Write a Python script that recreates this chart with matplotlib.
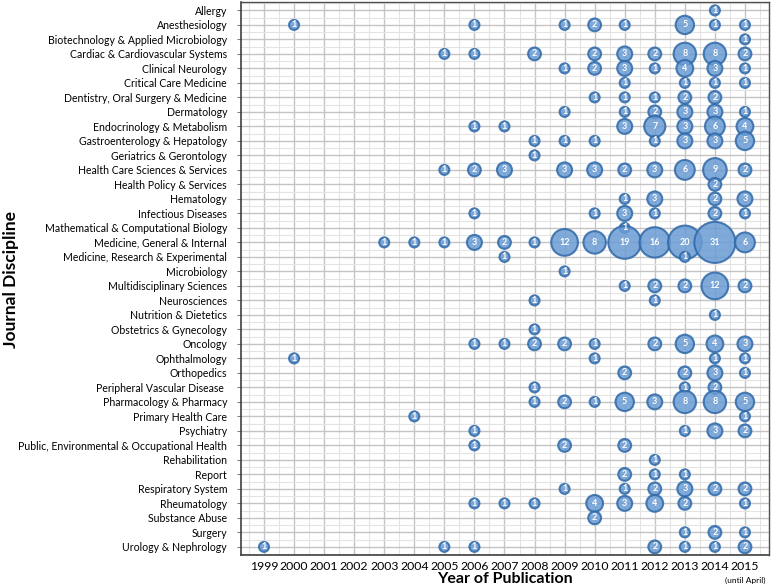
import numpy as np
import matplotlib
matplotlib.use("Agg")
import matplotlib.pyplot as plt
from matplotlib.ticker import MultipleLocator

plt.rcParams['font.family'] = ['Lato', 'DejaVu Sans']

years = list(range(1999, 2016))

categories = [
    "Allergy",
    "Anesthesiology",
    "Biotechnology & Applied Microbiology",
    "Cardiac & Cardiovascular Systems",
    "Clinical Neurology",
    "Critical Care Medicine",
    "Dentistry, Oral Surgery & Medicine",
    "Dermatology",
    "Endocrinology & Metabolism",
    "Gastroenterology & Hepatology",
    "Geriatrics & Gerontology",
    "Health Care Sciences & Services",
    "Health Policy & Services",
    "Hematology",
    "Infectious Diseases",
    "Mathematical & Computational Biology",
    "Medicine, General & Internal",
    "Medicine, Research & Experimental",
    "Microbiology",
    "Multidisciplinary Sciences",
    "Neurosciences",
    "Nutrition & Dietetics",
    "Obstetrics & Gynecology",
    "Oncology",
    "Ophthalmology",
    "Orthopedics",
    "Peripheral Vascular Disease ",
    "Pharmacology & Pharmacy",
    "Primary Health Care",
    "Psychiatry",
    "Public, Environmental & Occupational Health",
    "Rehabilitation",
    "Report",
    "Respiratory System",
    "Rheumatology",
    "Substance Abuse",
    "Surgery",
    "Urology & Nephrology",
]

# publications per year, one row per discipline (1999 ... 2015)
counts = [
    # 99 00 01 02 03 04 05 06 07 08 09 10  11  12  13  14 15
    [0, 0, 0, 0, 0, 0, 0, 0, 0, 0, 0, 0, 0, 0, 0, 1, 0],
    [0, 1, 0, 0, 0, 0, 0, 1, 0, 0, 1, 2, 1, 0, 5, 1, 1],
    [0, 0, 0, 0, 0, 0, 0, 0, 0, 0, 0, 0, 0, 0, 0, 0, 1],
    [0, 0, 0, 0, 0, 0, 1, 1, 0, 2, 0, 2, 3, 2, 8, 8, 2],
    [0, 0, 0, 0, 0, 0, 0, 0, 0, 0, 1, 2, 3, 1, 4, 3, 1],
    [0, 0, 0, 0, 0, 0, 0, 0, 0, 0, 0, 0, 1, 0, 1, 1, 1],
    [0, 0, 0, 0, 0, 0, 0, 0, 0, 0, 0, 1, 1, 1, 2, 2, 0],
    [0, 0, 0, 0, 0, 0, 0, 0, 0, 0, 1, 0, 1, 2, 3, 3, 1],
    [0, 0, 0, 0, 0, 0, 0, 1, 1, 0, 0, 0, 3, 7, 3, 6, 4],
    [0, 0, 0, 0, 0, 0, 0, 0, 0, 1, 1, 1, 0, 1, 3, 3, 5],
    [0, 0, 0, 0, 0, 0, 0, 0, 0, 1, 0, 0, 0, 0, 0, 0, 0],
    [0, 0, 0, 0, 0, 0, 1, 2, 3, 0, 3, 3, 2, 3, 6, 9, 2],
    [0, 0, 0, 0, 0, 0, 0, 0, 0, 0, 0, 0, 0, 0, 0, 2, 0],
    [0, 0, 0, 0, 0, 0, 0, 0, 0, 0, 0, 0, 1, 3, 0, 2, 3],
    [0, 0, 0, 0, 0, 0, 0, 1, 0, 0, 0, 1, 3, 1, 0, 2, 1],
    [0, 0, 0, 0, 0, 0, 0, 0, 0, 0, 0, 0, 1, 0, 0, 0, 0],
    [0, 0, 0, 0, 1, 1, 1, 3, 2, 1, 12, 8, 19, 16, 20, 31, 6],
    [0, 0, 0, 0, 0, 0, 0, 0, 1, 0, 0, 0, 0, 0, 1, 0, 0],
    [0, 0, 0, 0, 0, 0, 0, 0, 0, 0, 1, 0, 0, 0, 0, 0, 0],
    [0, 0, 0, 0, 0, 0, 0, 0, 0, 0, 0, 0, 1, 2, 2, 12, 2],
    [0, 0, 0, 0, 0, 0, 0, 0, 0, 1, 0, 0, 0, 1, 0, 0, 0],
    [0, 0, 0, 0, 0, 0, 0, 0, 0, 0, 0, 0, 0, 0, 0, 1, 0],
    [0, 0, 0, 0, 0, 0, 0, 0, 0, 1, 0, 0, 0, 0, 0, 0, 0],
    [0, 0, 0, 0, 0, 0, 0, 1, 1, 2, 2, 1, 0, 2, 5, 4, 3],
    [0, 1, 0, 0, 0, 0, 0, 0, 0, 0, 0, 1, 0, 0, 0, 1, 1],
    [0, 0, 0, 0, 0, 0, 0, 0, 0, 0, 0, 0, 2, 0, 2, 3, 1],
    [0, 0, 0, 0, 0, 0, 0, 0, 0, 1, 0, 0, 0, 0, 1, 2, 0],
    [0, 0, 0, 0, 0, 0, 0, 0, 0, 1, 2, 1, 5, 3, 8, 8, 5],
    [0, 0, 0, 0, 0, 1, 0, 0, 0, 0, 0, 0, 0, 0, 0, 0, 1],
    [0, 0, 0, 0, 0, 0, 0, 1, 0, 0, 0, 0, 0, 0, 1, 3, 2],
    [0, 0, 0, 0, 0, 0, 0, 1, 0, 0, 2, 0, 2, 0, 0, 0, 0],
    [0, 0, 0, 0, 0, 0, 0, 0, 0, 0, 0, 0, 0, 1, 0, 0, 0],
    [0, 0, 0, 0, 0, 0, 0, 0, 0, 0, 0, 0, 2, 1, 1, 0, 0],
    [0, 0, 0, 0, 0, 0, 0, 0, 0, 0, 1, 0, 1, 2, 3, 2, 2],
    [0, 0, 0, 0, 0, 0, 0, 1, 1, 1, 0, 4, 3, 4, 2, 0, 1],
    [0, 0, 0, 0, 0, 0, 0, 0, 0, 0, 0, 2, 0, 0, 0, 0, 0],
    [0, 0, 0, 0, 0, 0, 0, 0, 0, 0, 0, 0, 0, 0, 1, 2, 1],
    [1, 0, 0, 0, 0, 0, 1, 1, 0, 0, 0, 0, 0, 2, 1, 1, 2],
]

fill = "#6a9bd3"
edge = "#2f69a8"

fig = plt.figure(figsize=(7.78, 5.88), dpi=100)
ax = fig.add_axes([241 / 778, 1 - 555 / 588, (769 - 241) / 778, (555 - 2) / 588])

# bubble positions from the table
xs, ys, vals = [], [], []
for i, row in enumerate(counts):
    for j, v in enumerate(row):
        if v > 0:
            xs.append(years[j])
            ys.append(i)
            vals.append(v)
vals = np.array(vals)

# outer diameter in px, minus edge, converted to points
diam_px = 5.2 + 6.8 * np.sqrt(vals) - 2
sizes = (diam_px * 0.72) ** 2

ax.scatter(xs, ys, s=sizes, facecolor=fill, edgecolor=edge, linewidth=1.5,
           alpha=0.85, zorder=3)
for x, y, v in zip(xs, ys, vals):
    ax.text(x, y, str(v), ha="center", va="center", color="white",
            fontsize=6.5, fontweight="bold", zorder=4)

ax.set_xlim(1998.235, 2015.8)
ax.set_ylim(len(categories) - 1 + 0.56, -0.58)

ax.set_xticks(years)
ax.set_xticklabels([str(y) for y in years], fontsize=8.8)
ax.set_yticks(range(len(categories)))
ax.set_yticklabels(categories, fontsize=7.6)
ax.xaxis.set_minor_locator(MultipleLocator(0.5))
ax.yaxis.set_minor_locator(MultipleLocator(0.5))

ax.tick_params(axis="x", which="both", length=0, pad=4)
ax.tick_params(axis="y", which="major", length=3, width=0.8, color="#808080", pad=7)
ax.tick_params(axis="y", which="minor", length=0)

ax.grid(True, which="major", color="#c4c4c4", linewidth=1.0, zorder=0)
ax.grid(True, which="minor", color="#e4e4e4", linewidth=0.8, zorder=0)
ax.set_axisbelow(True)

for side in ["left", "bottom"]:
    ax.spines[side].set_color("#404040")
    ax.spines[side].set_linewidth(1.2)
for side in ["top", "right"]:
    ax.spines[side].set_color("#505050")
    ax.spines[side].set_linewidth(1.0)

fig.text(505 / 778, 1 - 579 / 588, "Year of Publication", ha="center", va="center",
         fontsize=11.5, fontweight="bold")
fig.text(11 / 778, 1 - 280 / 588, "Journal Discipline", rotation=90,
         ha="center", va="center", fontsize=12.5, fontweight="bold")
fig.text(745 / 778, 1 - 580 / 588, "(until April)", ha="center", va="center",
         fontsize=6)

fig.savefig("out.png", dpi=100)
plt.close(fig)
print("Saved: out.png")
